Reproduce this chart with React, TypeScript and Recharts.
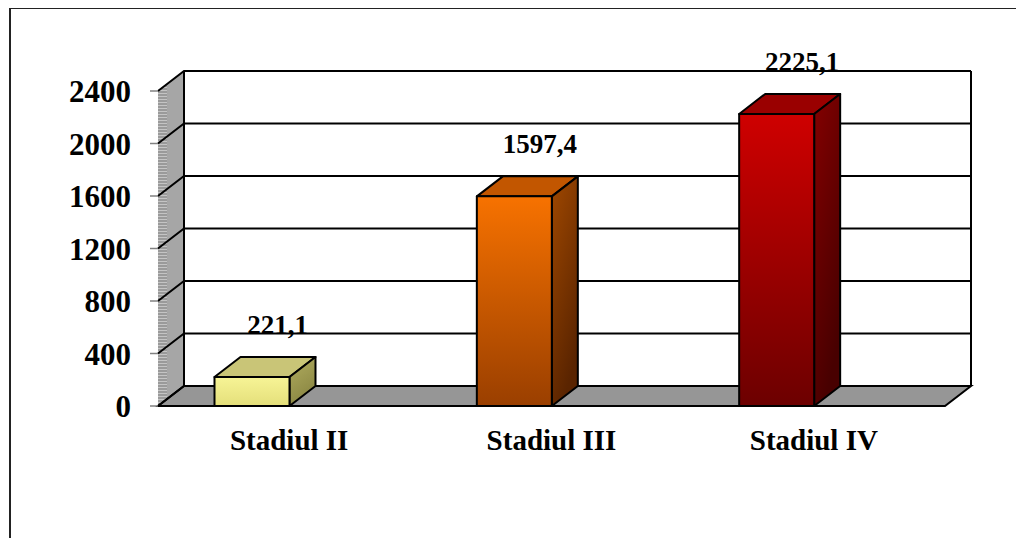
import { BarChart, Bar, XAxis, YAxis, CartesianGrid, LabelList } from 'recharts'

// chart data
const categories = ['Stadiul II', 'Stadiul III', 'Stadiul IV']
const values = [221.1, 1597.4, 2225.1]
const yTicks = [0, 400, 800, 1200, 1600, 2000, 2400]
const edgeTicks = [0, 1, 2, 3]

const data = categories.map((name, i) => ({ name, value: values[i], pos: i + 0.5 }))

// look of the 3D excel style bars: front gradient, top face, side gradient
const BAR_STYLES = [
  { front: ['#f7f496', '#e4df7a'], top: '#c9c577', side: ['#b2ae60', '#8a8642'] },
  { front: ['#f77200', '#9a3f00'], top: '#c25600', side: ['#a04800', '#5a2400'] },
  { front: ['#cf0000', '#6c0000'], top: '#9a0000', side: ['#840000', '#480000'] },
]

const DX = 26
const DY = -20
const FONT = '"Liberation Serif", "Times New Roman", serif'

const fmt = (v: number) => v.toFixed(1).replace('.', ',')

function Bar3D(props: any) {
  const { x, y, width, height, index } = props
  const i = index ?? 0
  const st = BAR_STYLES[i]
  const fx = x - width / 2
  const fw = width
  return (
    <g stroke="#000" strokeWidth={2} strokeLinejoin="round">
      <polygon
        points={`${fx},${y} ${fx + DX},${y + DY} ${fx + fw + DX},${y + DY} ${fx + fw},${y}`}
        fill={st.top}
      />
      <polygon
        points={`${fx + fw},${y} ${fx + fw + DX},${y + DY} ${fx + fw + DX},${y + height + DY} ${fx + fw},${y + height}`}
        fill={`url(#side${i})`}
      />
      <rect x={fx} y={y} width={fw} height={height} fill={`url(#front${i})`} />
    </g>
  )
}

function GridLine(props: any) {
  const { x1, x2, y1, index } = props
  const top = props.y ?? props.offset?.top ?? 91
  const h = props.height ?? props.offset?.height ?? 315
  const bottom = top + h
  return (
    <g key={props.key ?? `gl-${index}`}>
      {index === 0 && (
        <g>
          {/* left wall */}
          <polygon
            points={`${x1},${top} ${x1 + DX},${top + DY} ${x1 + DX},${bottom + DY} ${x1},${bottom}`}
            fill="#a6a6a6"
          />
          <polygon
            points={`${x1},${top} ${x1 + 9},${top - 7} ${x1 + 9},${bottom - 7} ${x1},${bottom}`}
            fill="url(#hatch)"
          />
          {/* floor */}
          <polygon
            points={`${x1},${bottom} ${x2},${bottom} ${x2 + DX},${bottom + DY} ${x1 + DX},${bottom + DY}`}
            fill="#969696"
            stroke="#000"
            strokeWidth={2}
          />
          <line x1={x1 + DX} y1={top + DY} x2={x1 + DX} y2={bottom + DY} stroke="#000" strokeWidth={2} />
          <line x1={x2 + DX} y1={top + DY} x2={x2 + DX} y2={bottom + DY} stroke="#000" strokeWidth={2} />
        </g>
      )}
      <polyline
        points={`${x1},${y1} ${x1 + DX},${y1 + DY} ${x2 + DX},${y1 + DY}`}
        fill="none"
        stroke="#000"
        strokeWidth={2}
      />
    </g>
  )
}

function ValueLabel(props: any) {
  const { x, y, width, value } = props
  return (
    <text
      x={x + width / 2 - 12}
      y={y - 43}
      textAnchor="middle"
      fontFamily={FONT}
      fontWeight="bold"
      fontSize={27}
      fill="#000"
    >
      {fmt(Number(value))}
    </text>
  )
}

export default function App() {
  return (
    <div style={{ margin: -8, position: 'relative', width: 1024, height: 546, background: '#fff', overflow: 'hidden' }}>
      <div
        style={{
          position: 'absolute',
          left: 9,
          top: 7,
          width: 1100,
          height: 600,
          borderTop: '2px solid #222',
          borderLeft: '2px solid #222',
        }}
      />
      <div style={{ position: 'absolute', left: 0, top: 0 }}>
        <BarChart width={1024} height={546} data={data} margin={{ top: 91, right: 79, bottom: 80, left: 0 }}>
          <defs>
            {BAR_STYLES.map((s, i) => (
              <linearGradient key={`f${i}`} id={`front${i}`} x1="0" y1="0" x2="0" y2="1">
                <stop offset="0%" stopColor={s.front[0]} />
                <stop offset="100%" stopColor={s.front[1]} />
              </linearGradient>
            ))}
            {BAR_STYLES.map((s, i) => (
              <linearGradient key={`s${i}`} id={`side${i}`} x1="0" y1="0" x2="0.4" y2="1">
                <stop offset="0%" stopColor={s.side[0]} />
                <stop offset="100%" stopColor={s.side[1]} />
              </linearGradient>
            ))}
            <pattern id="hatch" width="4" height="3" patternUnits="userSpaceOnUse">
              <rect width="4" height="3" fill="#9a9a9a" />
              <rect width="4" height="1" fill="#c4c4c4" />
            </pattern>
          </defs>
          <CartesianGrid xAxisId="cat" vertical={false} horizontal={GridLine} />
          <XAxis
            xAxisId="edge"
            type="number"
            dataKey="pos"
            domain={[0, 3]}
            ticks={edgeTicks}
            allowDataOverflow
            tick={false}
            tickSize={8}
            tickLine={{ stroke: '#555', strokeWidth: 1.5 }}
            axisLine={false}
            height={0}
          />
          <XAxis
            xAxisId="cat"
            dataKey="name"
            interval={0}
            tickLine={false}
            tickSize={0}
            tickMargin={23}
            axisLine={false}
            height={60}
            tick={{ fill: '#000', fontSize: 29, fontWeight: 'bold', fontFamily: FONT }}
          />
          <YAxis
            domain={[0, 2400]}
            ticks={yTicks}
            width={158}
            axisLine={false}
            tickSize={8}
            tickMargin={19}
            tickLine={{ stroke: '#808080', strokeWidth: 1.5 }}
            tick={{ fill: '#000', fontSize: 31, fontWeight: 'bold', fontFamily: FONT }}
          />
          <Bar xAxisId="cat" dataKey="value" barSize={75} shape={Bar3D} isAnimationActive={false}>
            <LabelList dataKey="value" content={ValueLabel} />
          </Bar>
        </BarChart>
      </div>
    </div>
  )
}
